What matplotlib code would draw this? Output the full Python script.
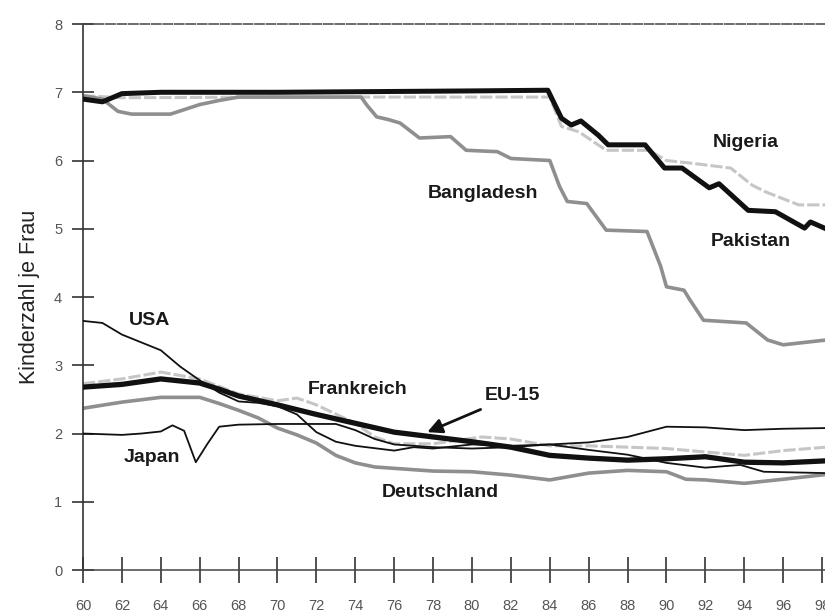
import matplotlib
matplotlib.use("Agg")
import matplotlib.pyplot as plt

plt.rcParams['font.family'] = ['Liberation Sans', 'DejaVu Sans']

# ---- data ----
pak_x = [60, 61, 62, 64, 70, 80, 83.9, 84.6, 85.1, 85.6, 86.5, 87.0, 88.9, 89.9, 90.8,
         92.2, 92.7, 94.2, 95.6, 97.1, 97.4, 98.2]
pak_y = [6.9, 6.86, 6.98, 7.0, 7.0, 7.02, 7.03, 6.62, 6.52, 6.58, 6.37, 6.23, 6.23, 5.89, 5.89,
         5.60, 5.66, 5.27, 5.25, 5.01, 5.1, 5.0]

nig_x = [60, 62, 70, 84, 84.6, 85.5, 86.9, 89.1, 90, 91.3, 93.3, 94.4, 95.1, 96.8, 98.2]
nig_y = [6.95, 6.92, 6.93, 6.93, 6.5, 6.42, 6.15, 6.15, 6.0, 5.96, 5.89, 5.64, 5.54, 5.35, 5.35]

ban_x = [60, 61, 61.8, 62.5, 64.5, 66, 67, 68, 74.3, 74.6, 75.1, 75.7, 76.3, 77.3, 78.9, 79.7,
         81.3, 82.0, 84.0, 84.5, 84.9, 85.9, 86.9, 89.0, 89.7, 90.0, 90.9, 91.2, 91.9, 94.1,
         95.2, 96.0, 98.2]
ban_y = [6.95, 6.9, 6.72, 6.68, 6.68, 6.82, 6.88, 6.93, 6.93, 6.81, 6.64, 6.6, 6.55, 6.33, 6.35, 6.15,
         6.13, 6.03, 6.0, 5.62, 5.4, 5.37, 4.98, 4.96, 4.45, 4.15, 4.1, 3.96, 3.66, 3.62,
         3.37, 3.3, 3.37]

usa_x = [60, 61, 62, 64, 65, 66, 67, 68, 69, 70, 71, 72, 73, 74, 76, 77, 78, 80, 82, 84,
         86, 88, 90, 92, 94, 96, 98.2]
usa_y = [3.65, 3.62, 3.45, 3.22, 2.98, 2.78, 2.6, 2.47, 2.45, 2.4, 2.28, 2.02, 1.88, 1.82, 1.75,
         1.8, 1.78, 1.84, 1.82, 1.84, 1.87, 1.95, 2.1, 2.09, 2.05, 2.07, 2.08]

jap_x = [60, 62, 63, 64, 64.6, 65.2, 65.8, 66.4, 67, 68, 70, 72, 73, 74, 75, 76, 78, 80,
         82, 84, 86, 88, 90, 92, 93.8, 95, 98.2]
jap_y = [2.0, 1.98, 2.0, 2.03, 2.12, 2.04, 1.58, 1.85, 2.1, 2.13, 2.14, 2.14, 2.14, 2.05,
         1.92, 1.84, 1.8, 1.78, 1.8, 1.84, 1.76, 1.69, 1.57, 1.5, 1.54, 1.44, 1.42]

fra_x = [60, 62, 64, 66, 68, 70, 71, 72, 74, 75, 76, 78, 80.5, 82, 84, 86, 88, 90, 92,
         94, 96, 98.2]
fra_y = [2.73, 2.8, 2.9, 2.8, 2.58, 2.48, 2.52, 2.42, 2.15, 1.95, 1.85, 1.85, 1.95, 1.92,
         1.82, 1.82, 1.8, 1.78, 1.73, 1.68, 1.75, 1.8]

eu_x = [60, 62, 64, 66, 67, 68, 70, 72, 74, 76, 78, 80, 82, 84, 86, 88, 90, 92, 94, 96, 98.2]
eu_y = [2.68, 2.72, 2.8, 2.74, 2.65, 2.55, 2.42, 2.28, 2.15, 2.02, 1.95, 1.88, 1.8, 1.68,
        1.64, 1.61, 1.63, 1.66, 1.58, 1.57, 1.6]

ger_x = [60, 62, 64, 66, 67, 68, 69, 70, 71, 72, 73, 74, 75, 76, 78, 80, 82, 84, 86, 88,
         90, 91, 92, 94, 96, 98.2]
ger_y = [2.37, 2.46, 2.53, 2.53, 2.44, 2.34, 2.23, 2.08, 1.98, 1.86, 1.68, 1.57, 1.51, 1.49,
         1.45, 1.44, 1.39, 1.32, 1.42, 1.46, 1.44, 1.33, 1.32, 1.27, 1.33, 1.4]

x_ticks = list(range(60, 100, 2))
x_labels = [str(t) for t in x_ticks]
y_ticks = list(range(0, 9))

# ---- figure ----
fig = plt.figure(figsize=(8.25, 6.13), dpi=100)
ax = fig.add_axes([0.1006, 0.0701, 0.8994, 0.8907])

light = '#c6c6c6'
mid = '#8f8f8f'

ax.plot(nig_x, nig_y, color=light, lw=2.2, ls=(0, (4, 1)), zorder=2)
ax.plot(ban_x, ban_y, color=mid, lw=2.6, zorder=2)
ax.plot(pak_x, pak_y, color='#111111', lw=3.6, zorder=4)

ax.plot(ger_x, ger_y, color=mid, lw=2.6, zorder=2)
ax.plot(fra_x, fra_y, color=light, lw=2.2, ls=(0, (4, 1)), zorder=2)
ax.plot(eu_x, eu_y, color='#111111', lw=3.8, zorder=4)
ax.plot(usa_x, usa_y, color='#111111', lw=1.3, zorder=5)
ax.plot(jap_x, jap_y, color='#111111', lw=1.3, zorder=5)

ax.set_xlim(60, 98.15)
ax.set_ylim(0, 8)
ax.set_xticks(x_ticks)
ax.set_xticklabels(x_labels)
ax.set_yticks(y_ticks)

ax.tick_params(axis='x', direction='inout', length=19, width=1.2, color='#333333',
               labelsize=10.5, labelcolor='#555555', pad=11)
ax.tick_params(axis='y', direction='inout', length=16, width=1.2, color='#333333',
               labelsize=10.5, labelcolor='#555555', pad=7)

ax.spines['right'].set_visible(False)
ax.spines['left'].set_linestyle((0, (2, 1)))
ax.spines['left'].set_color('#333333')
ax.spines['left'].set_linewidth(1.2)
ax.spines['top'].set_linestyle((0, (6, 1.5)))
ax.spines['top'].set_color('#444444')
ax.spines['top'].set_linewidth(1.1)
ax.spines['bottom'].set_color('#444444')
ax.spines['bottom'].set_linewidth(1.1)

ax.set_ylabel('Kinderzahl je Frau', fontsize=15.5, color='#222222', labelpad=10)

lbl = dict(fontsize=14, fontweight='bold', color='#1a1a1a', ha='center', va='center', zorder=6)
ax.text(94.1, 6.27, 'Nigeria', **lbl)
ax.text(94.36, 4.82, 'Pakistan', **lbl)
ax.text(80.58, 5.52, 'Bangladesh', **lbl)
ax.text(63.4, 3.65, 'USA', **lbl)
ax.text(74.1, 2.64, 'Frankreich', **lbl)
ax.text(63.55, 1.65, 'Japan', **lbl)
ax.text(78.36, 1.14, 'Deutschland', **lbl)
ax.annotate('EU-15', xy=(77.7, 2.02), xytext=(82.07, 2.55),
            fontsize=14, fontweight='bold', color='#1a1a1a', ha='center', va='center',
            arrowprops=dict(arrowstyle='-|>', color='#111111', lw=2, mutation_scale=22,
                            shrinkA=4, shrinkB=0), zorder=6)

fig.savefig('out.png', dpi=100)
